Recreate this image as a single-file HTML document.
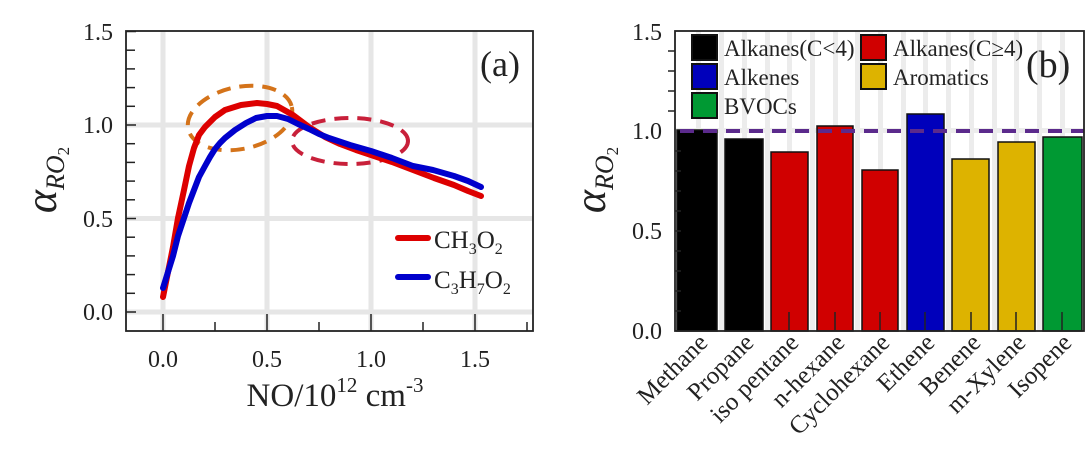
<!DOCTYPE html>
<html><head><meta charset="utf-8"><style>
html,body{margin:0;padding:0;background:#fff;}
svg{display:block;}
svg text{font-family:"Liberation Serif",serif;}
</style></head><body>
<svg width="1092" height="449" viewBox="0 0 1092 449" xmlns="http://www.w3.org/2000/svg" font-family="Liberation Serif, serif">
<!-- Panel a -->
<g>
  <rect x="126" y="31" width="407" height="300" fill="#fff"/>
  <g stroke="#e6e6e6" stroke-width="5">
    <line x1="163" y1="31" x2="163" y2="331"/>
    <line x1="267" y1="31" x2="267" y2="331"/>
    <line x1="371" y1="31" x2="371" y2="331"/>
    <line x1="475" y1="31" x2="475" y2="331"/>
    <line x1="126" y1="312" x2="533" y2="312"/>
    <line x1="126" y1="218.5" x2="533" y2="218.5"/>
    <line x1="126" y1="125" x2="533" y2="125"/>
  </g>
  <ellipse cx="240" cy="118" rx="53" ry="31" transform="rotate(-12 240 118)" fill="none" stroke="#d4731a" stroke-width="4" stroke-dasharray="14 9"/>
  <ellipse cx="350" cy="141" rx="58" ry="23" fill="none" stroke="#c8203a" stroke-width="4" stroke-dasharray="14 9"/>
  <polyline points="163,297 168,272 173,247 178,218 184,190 189,166 194,148 199,135 205,127 215,117 225,110 241,105 257,103 267,104 277,106 293,115 309,127 325,137 340,144 356,150 371,155 392,162 413,170 434,178 454,185 468,191 481,196" fill="none" stroke="#dd0000" stroke-width="6" stroke-linecap="round" stroke-linejoin="round"/>
  <polyline points="163,288 168,272 173,256 178,236 184,218 189,203 194,190 199,177 205,166 210,157 215,149 220,143 225,138 235,130 246,123 256,118 267,116 277,116 288,119 298,124 309,129 319,134 329,138 350,145 371,151 392,158 413,166 433,170 454,176 468,181 481,187" fill="none" stroke="#0000cc" stroke-width="6" stroke-linecap="round" stroke-linejoin="round"/>
  <rect x="126" y="31" width="407" height="300" fill="none" stroke="#222" stroke-width="1.8"/>
  <g stroke="#222" stroke-width="1.5">
    <line x1="126" y1="312" x2="136" y2="312"/><line x1="126" y1="218.5" x2="136" y2="218.5"/><line x1="126" y1="125" x2="136" y2="125"/><line x1="126" y1="31.5" x2="136" y2="31.5"/>
    <line x1="126" y1="293.3" x2="135" y2="293.3"/><line x1="126" y1="274.6" x2="135" y2="274.6"/><line x1="126" y1="255.9" x2="135" y2="255.9"/><line x1="126" y1="237.2" x2="135" y2="237.2"/>
    <line x1="126" y1="199.8" x2="135" y2="199.8"/><line x1="126" y1="181.1" x2="135" y2="181.1"/><line x1="126" y1="162.4" x2="135" y2="162.4"/><line x1="126" y1="143.7" x2="135" y2="143.7"/>
    <line x1="126" y1="106.3" x2="135" y2="106.3"/><line x1="126" y1="87.6" x2="135" y2="87.6"/><line x1="126" y1="68.9" x2="135" y2="68.9"/><line x1="126" y1="50.2" x2="135" y2="50.2"/>
    <line x1="163" y1="331" x2="163" y2="314"/><line x1="267" y1="331" x2="267" y2="314"/><line x1="371" y1="331" x2="371" y2="314"/><line x1="475" y1="331" x2="475" y2="314"/>
    <line x1="215" y1="331" x2="215" y2="322"/><line x1="319" y1="331" x2="319" y2="322"/><line x1="423" y1="331" x2="423" y2="322"/><line x1="527" y1="331" x2="527" y2="322"/>
  </g>
  <g font-size="24" fill="#222" text-anchor="end">
    <text x="113" y="320">0.0</text><text x="113" y="227">0.5</text><text x="113" y="133">1.0</text><text x="113" y="40">1.5</text>
  </g>
  <g font-size="24" fill="#222" text-anchor="middle">
    <text x="163" y="367">0.0</text><text x="267" y="367">0.5</text><text x="371" y="367">1.0</text><text x="475" y="367">1.5</text>
  </g>
  <text x="335" y="406" font-size="33" text-anchor="middle" fill="#222">NO/10<tspan font-size="21" dy="-14">12</tspan><tspan dy="14"> cm</tspan><tspan font-size="21" dy="-14">-3</tspan></text>
  <text transform="translate(56,180) rotate(-90)" text-anchor="middle" fill="#222"><tspan font-size="44" font-style="italic">α</tspan><tspan font-size="26" font-style="italic" dy="8">RO</tspan><tspan font-size="17" dy="5">2</tspan></text>
  <text x="480" y="76" font-size="36" fill="#222">(a)</text>
  <line x1="398" y1="238" x2="428" y2="238" stroke="#dd0000" stroke-width="6" stroke-linecap="round"/>
  <text x="434" y="248" font-size="25" fill="#222">CH<tspan font-size="16" dy="6">3</tspan><tspan dy="-6">O</tspan><tspan font-size="16" dy="6">2</tspan></text>
  <line x1="398" y1="277" x2="428" y2="277" stroke="#0000cc" stroke-width="6" stroke-linecap="round"/>
  <text x="434" y="288" font-size="25" fill="#222">C<tspan font-size="16" dy="6">3</tspan><tspan dy="-6">H</tspan><tspan font-size="16" dy="6">7</tspan><tspan dy="-6">O</tspan><tspan font-size="16" dy="6">2</tspan></text>
</g>

<!-- Panel b -->
<g>
  <g fill="#ececec">
    <rect x="696" y="31" width="5" height="300"/><rect x="719" y="31" width="5" height="300"/><rect x="742" y="31" width="5" height="300"/><rect x="765" y="31" width="5" height="300"/>
    <rect x="787" y="31" width="5" height="300"/><rect x="810" y="31" width="5" height="300"/><rect x="833" y="31" width="5" height="300"/><rect x="855" y="31" width="5" height="300"/>
    <rect x="878" y="31" width="5" height="300"/><rect x="901" y="31" width="5" height="300"/><rect x="923" y="31" width="5" height="300"/><rect x="946" y="31" width="5" height="300"/>
    <rect x="969" y="31" width="5" height="300"/><rect x="992" y="31" width="5" height="300"/><rect x="1014" y="31" width="5" height="300"/><rect x="1037" y="31" width="5" height="300"/><rect x="1060" y="31" width="5" height="300"/>
    <rect x="675" y="128" width="409" height="5"/>
  </g>
  <g stroke="#111" stroke-width="1.5">
    <rect x="677" y="130" width="40" height="201" fill="#000"/>
    <rect x="725" y="139" width="38" height="192" fill="#000"/>
    <rect x="771" y="152" width="37" height="179" fill="#d00000"/>
    <rect x="817" y="126" width="36" height="205" fill="#d00000"/>
    <rect x="862" y="170" width="36" height="161" fill="#d00000"/>
    <rect x="907" y="114" width="37" height="217" fill="#0000bb"/>
    <rect x="952" y="159" width="37" height="172" fill="#ddb300"/>
    <rect x="998" y="142" width="37" height="189" fill="#ddb300"/>
    <rect x="1043" y="137" width="39" height="194" fill="#009933"/>
  </g>
  <line x1="680" y1="131" x2="1084" y2="131" stroke="#5b2a8c" stroke-width="4" stroke-dasharray="14 9"/>
  <rect x="675" y="31" width="409" height="300" fill="none" stroke="#222" stroke-width="1.8"/>
  <g stroke="#222" stroke-width="1.5">
    <line x1="789" y1="331" x2="789" y2="312"/><line x1="835" y1="331" x2="835" y2="312"/><line x1="880" y1="331" x2="880" y2="312"/><line x1="925" y1="331" x2="925" y2="312"/><line x1="971" y1="331" x2="971" y2="312"/><line x1="1016" y1="331" x2="1016" y2="312"/><line x1="1062" y1="331" x2="1062" y2="312"/>
    <line x1="675" y1="311" x2="681" y2="311"/><line x1="675" y1="291" x2="681" y2="291"/><line x1="675" y1="271" x2="681" y2="271"/><line x1="675" y1="251" x2="681" y2="251"/><line x1="675" y1="231" x2="681" y2="231"/>
    <line x1="675" y1="211" x2="681" y2="211"/><line x1="675" y1="191" x2="681" y2="191"/><line x1="675" y1="171" x2="681" y2="171"/><line x1="675" y1="151" x2="681" y2="151"/>
    <line x1="668" y1="111" x2="675" y2="111"/><line x1="668" y1="91" x2="675" y2="91"/><line x1="668" y1="71" x2="675" y2="71"/><line x1="668" y1="51" x2="675" y2="51"/>
  </g>
  <g font-size="24" fill="#222" text-anchor="end">
    <text x="662" y="339">0.0</text><text x="662" y="239">0.5</text><text x="662" y="139">1.0</text><text x="662" y="40">1.5</text>
  </g>
  <text transform="translate(605,180) rotate(-90)" text-anchor="middle" fill="#222"><tspan font-size="44" font-style="italic">α</tspan><tspan font-size="26" font-style="italic" dy="8">RO</tspan><tspan font-size="17" dy="5">2</tspan></text>
  <g font-size="25" fill="#222" text-anchor="end">
    <text transform="translate(709,344) rotate(-45)">Methane</text>
    <text transform="translate(755,344) rotate(-45)">Propane</text>
    <text transform="translate(800,344) rotate(-45)">iso pentane</text>
    <text transform="translate(846,344) rotate(-45)">n-hexane</text>
    <text transform="translate(891,344) rotate(-45)">Cyclohexane</text>
    <text transform="translate(936,344) rotate(-45)">Ethene</text>
    <text transform="translate(982,344) rotate(-45)">Benene</text>
    <text transform="translate(1027,344) rotate(-45)">m-Xylene</text>
    <text transform="translate(1073,344) rotate(-45)">Isopene</text>
  </g>
  <g stroke="#111" stroke-width="2">
    <rect x="692" y="35" width="25" height="25" fill="#000"/>
    <rect x="692" y="64" width="25" height="25" fill="#0000bb"/>
    <rect x="692" y="93" width="25" height="25" fill="#009933"/>
    <rect x="861" y="35" width="25" height="25" fill="#d00000"/>
    <rect x="861" y="64" width="25" height="25" fill="#ddb300"/>
  </g>
  <g font-size="23" fill="#222">
    <text x="724" y="56">Alkanes(C&lt;4)</text>
    <text x="724" y="85">Alkenes</text>
    <text x="724" y="114">BVOCs</text>
    <text x="893" y="56">Alkanes(C≥4)</text>
    <text x="893" y="85">Aromatics</text>
  </g>
  <text x="1026" y="77" font-size="38" fill="#222">(b)</text>
</g>
</svg>
</body></html>
